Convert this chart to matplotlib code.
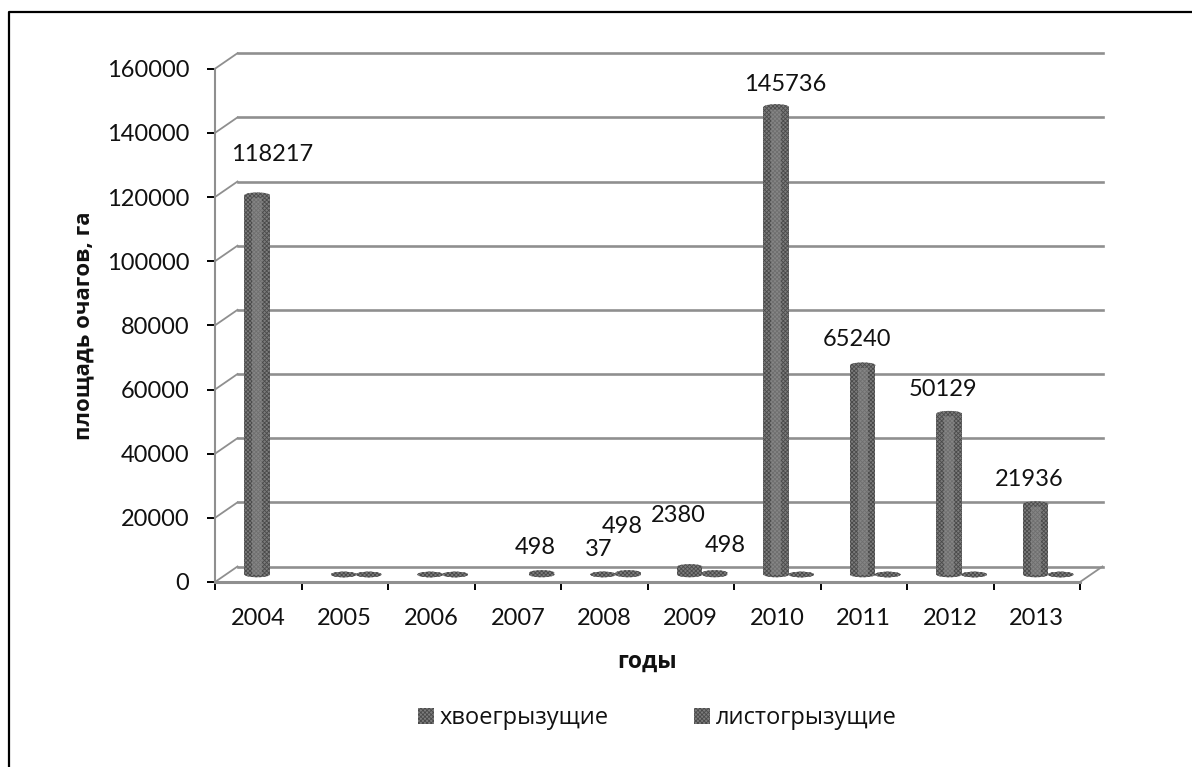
import numpy as np
import matplotlib
matplotlib.use("Agg")
import matplotlib.pyplot as plt
from matplotlib.lines import Line2D
from matplotlib.patches import Ellipse, Patch
from matplotlib.transforms import ScaledTranslation

# data, nan = no mark drawn
years = [2004, 2005, 2006, 2007, 2008, 2009, 2010, 2011, 2012, 2013]
needle_eaters = [118217, 0, 0, np.nan, 37, 2380, 145736, 65240, 50129, 21936]
leaf_eaters = [np.nan, 0, 0, 498, 498, 498, 0, 0, 0, 0]
y_ticks = [0, 20000, 40000, 60000, 80000, 100000, 120000, 140000, 160000]

W, H, DPI = 1192, 767, 100
plt.rcParams["font.family"] = ["Lato", "Open Sans", "DejaVu Sans"]
plt.rcParams["hatch.linewidth"] = 0.6

fig = plt.figure(figsize=(W / DPI, H / DPI), dpi=DPI)

# axes box is the front plane of the fake 3d chart
left, right, top, bottom = 215, 1080, 68.7, 582
ax = fig.add_axes([left / W, 1 - bottom / H, (right - left) / W, (bottom - top) / H])
ax.set_xlim(0, 10)
ax.set_ylim(0, 160000)
ax.patch.set_visible(False)

GRID = "#8f8f8f"
DARK = "#4a4a4a"
MID = "#7c7c7c"
LIGHT = "#8e8e8e"


def shifted(dx, dy):
    return ax.transData + ScaledTranslation(dx / DPI, dy / DPI, fig.dpi_scale_trans)


# back wall and floor
back = shifted(22.5, 15.5)
for v in y_ticks:
    ax.plot([0, 10], [v, v], color=GRID, lw=1.9, transform=back, clip_on=False, zorder=1)
    fig.add_artist(Line2D(
        [left / W, (left + 22.5) / W],
        [ax.transData.transform((0, v))[1] / H, (ax.transData.transform((0, v))[1] + 15.5) / H],
        color=GRID, lw=1.3))
fig.add_artist(Line2D(
    [right / W, (right + 22.5) / W],
    [(H - bottom) / H, (H - bottom + 15.5) / H],
    color=GRID, lw=1.3))

for side in ["top", "right"]:
    ax.spines[side].set_visible(False)
ax.spines["left"].set_color(GRID)
ax.spines["left"].set_linewidth(1.5)
ax.spines["bottom"].set_color(GRID)
ax.spines["bottom"].set_linewidth(2.2)

ax.set_yticks(y_ticks)
ax.tick_params(axis="y", direction="out", length=5.5, width=1.4, color="black",
               labelsize=17, pad=13, labelcolor="#111111")
ax.set_xticks(np.arange(11))
ax.set_xticklabels([])
ax.set_xticks(np.arange(10) + 0.5, [str(y) for y in years], minor=True)
ax.tick_params(axis="x", which="major", direction="out", length=6, width=1.4, color="black")
ax.tick_params(axis="x", which="minor", length=0, labelsize=17, pad=19, labelcolor="#111111")

# bars sit on the floor, a few px above the front edge
floor = shifted(0, 7.5)
bar_w = 25.5 / 86.5
cap_h = 5.5 / (bottom - top) * 160000
offsets = [-0.012, 0.277]
x = np.arange(10) + 0.5


def draw_series(values, off):
    for xi, v in zip(x + off, values):
        if np.isnan(v):
            continue
        ax.bar(xi, v, bar_w, color=MID, hatch="xxxxxxxx", edgecolor=DARK, linewidth=0,
               transform=floor, zorder=3)
        # lighter middle band, the columns are shaded round
        if v > 5000:
            ax.bar(xi, v, bar_w * 0.4, color=LIGHT, transform=floor, zorder=3.5, linewidth=0, alpha=0.55)
        ax.add_patch(Ellipse((xi, 0), bar_w, cap_h, facecolor=MID, edgecolor=DARK, hatch="xxxxxxxx",
                             linewidth=0, transform=floor, zorder=3, clip_on=False))
        ax.add_patch(Ellipse((xi, v), bar_w, cap_h, facecolor=MID, edgecolor=DARK, hatch="xxxxxxxx",
                             linewidth=0, transform=floor, zorder=4, clip_on=False))


draw_series(needle_eaters, offsets[0])
draw_series(leaf_eaters, offsets[1])

# hand placed data labels, px from bar top: series, year index, dx, dy
labels = [
    (0, 0, 15, 41), (0, 4, -5, 25), (0, 5, -11, 51), (0, 6, 9, 22),
    (0, 7, -6, 26), (0, 8, -6, 24), (0, 9, -6, 25),
    (1, 3, -6, 25), (1, 4, -6, 46), (1, 5, 11, 27),
]
for s, i, dx, dy in labels:
    v = [needle_eaters, leaf_eaters][s][i]
    ax.annotate(str(v), xy=(x[i] + offsets[s], v), xycoords=floor,
                xytext=(dx, dy), textcoords="offset pixels",
                ha="center", va="center", fontsize=17, color="#111111", zorder=5)

fig.text(84 / W, 1 - 326 / H, "площадь очагов, га", rotation=90, ha="center", va="center",
         fontsize=16, fontweight="bold", family=["Open Sans", "DejaVu Sans"], color="#111111")
fig.text(647 / W, 1 - 662 / H, "годы", ha="center", va="center",
         fontsize=16.5, fontweight="bold", family=["Open Sans", "DejaVu Sans"], color="#111111")

handles = [Patch(facecolor=MID, edgecolor=DARK, hatch="xxxxxxxx", linewidth=0, label="хвоегрызущие"),
           Patch(facecolor=MID, edgecolor=DARK, hatch="xxxxxxxx", linewidth=0, label="листогрызущие")]
fig.legend(handles=handles, ncols=2, loc="center", bbox_to_anchor=(657 / W, 1 - 718 / H),
           frameon=False, handlelength=0.68, handleheight=0.68, handletextpad=0.25, columnspacing=3.6,
           prop={"family": ["Open Sans", "DejaVu Sans"], "size": 17}, labelcolor="#111111")

# outer frame runs off the right and bottom of the picture
fig.add_artist(Line2D([8.5 / W, 8.5 / W, 1], [0, 1 - 12 / H, 1 - 12 / H], color="black", lw=1.6))

fig.savefig("out.png", dpi=DPI)
